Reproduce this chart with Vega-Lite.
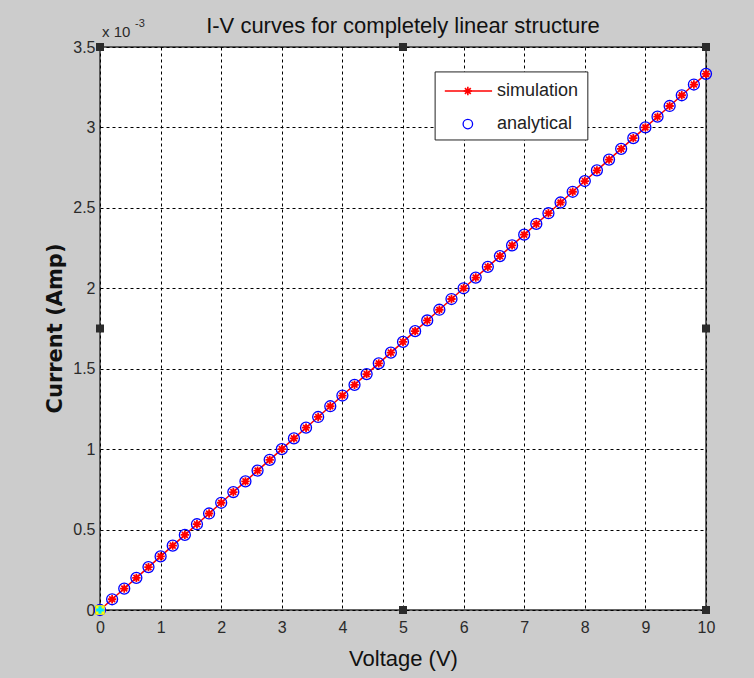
{
  "$schema": "https://vega.github.io/schema/vega-lite/v6.json",
  "width": 606,
  "height": 563,
  "autosize": "none",
  "padding": {"left": 100, "top": 47, "right": 48, "bottom": 68},
  "background": "#cccccc",
  "config": {
    "font": "Liberation Sans",
    "view": {"fill": "white", "stroke": "#333333", "strokeWidth": 1.5},
    "axis": {
      "grid": true,
      "gridColor": "#000000",
      "gridDash": [3, 3],
      "gridWidth": 1,
      "gridOpacity": 1,
      "domain": false,
      "ticks": false,
      "labelFont": "Liberation Sans",
      "labelFontSize": 16,
      "labelColor": "#2a2a2a",
      "titleFont": "Liberation Sans",
      "titleColor": "#111111"
    }
  },
  "title": {
    "text": "I-V curves for completely linear structure",
    "font": "Liberation Sans",
    "fontSize": 22,
    "fontWeight": "normal",
    "color": "#111111",
    "anchor": "middle",
    "baseline": "alphabetic",
    "offset": -37
  },
  "datasets": {
    "iv": [
      {"v": 0.0, "i_sim": 0.0, "i_ana": 0.0},
      {"v": 0.2, "i_sim": 0.0000667, "i_ana": 0.0000667},
      {"v": 0.4, "i_sim": 0.0001333, "i_ana": 0.0001333},
      {"v": 0.6, "i_sim": 0.0002, "i_ana": 0.0002},
      {"v": 0.8, "i_sim": 0.0002667, "i_ana": 0.0002667},
      {"v": 1.0, "i_sim": 0.0003333, "i_ana": 0.0003333},
      {"v": 1.2, "i_sim": 0.0004, "i_ana": 0.0004},
      {"v": 1.4, "i_sim": 0.0004667, "i_ana": 0.0004667},
      {"v": 1.6, "i_sim": 0.0005333, "i_ana": 0.0005333},
      {"v": 1.8, "i_sim": 0.0006, "i_ana": 0.0006},
      {"v": 2.0, "i_sim": 0.0006667, "i_ana": 0.0006667},
      {"v": 2.2, "i_sim": 0.0007333, "i_ana": 0.0007333},
      {"v": 2.4, "i_sim": 0.0008, "i_ana": 0.0008},
      {"v": 2.6, "i_sim": 0.0008667, "i_ana": 0.0008667},
      {"v": 2.8, "i_sim": 0.0009333, "i_ana": 0.0009333},
      {"v": 3.0, "i_sim": 0.001, "i_ana": 0.001},
      {"v": 3.2, "i_sim": 0.0010667, "i_ana": 0.0010667},
      {"v": 3.4, "i_sim": 0.0011333, "i_ana": 0.0011333},
      {"v": 3.6, "i_sim": 0.0012, "i_ana": 0.0012},
      {"v": 3.8, "i_sim": 0.0012667, "i_ana": 0.0012667},
      {"v": 4.0, "i_sim": 0.0013333, "i_ana": 0.0013333},
      {"v": 4.2, "i_sim": 0.0014, "i_ana": 0.0014},
      {"v": 4.4, "i_sim": 0.0014667, "i_ana": 0.0014667},
      {"v": 4.6, "i_sim": 0.0015333, "i_ana": 0.0015333},
      {"v": 4.8, "i_sim": 0.0016, "i_ana": 0.0016},
      {"v": 5.0, "i_sim": 0.0016667, "i_ana": 0.0016667},
      {"v": 5.2, "i_sim": 0.0017333, "i_ana": 0.0017333},
      {"v": 5.4, "i_sim": 0.0018, "i_ana": 0.0018},
      {"v": 5.6, "i_sim": 0.0018667, "i_ana": 0.0018667},
      {"v": 5.8, "i_sim": 0.0019333, "i_ana": 0.0019333},
      {"v": 6.0, "i_sim": 0.002, "i_ana": 0.002},
      {"v": 6.2, "i_sim": 0.0020667, "i_ana": 0.0020667},
      {"v": 6.4, "i_sim": 0.0021333, "i_ana": 0.0021333},
      {"v": 6.6, "i_sim": 0.0022, "i_ana": 0.0022},
      {"v": 6.8, "i_sim": 0.0022667, "i_ana": 0.0022667},
      {"v": 7.0, "i_sim": 0.0023333, "i_ana": 0.0023333},
      {"v": 7.2, "i_sim": 0.0024, "i_ana": 0.0024},
      {"v": 7.4, "i_sim": 0.0024667, "i_ana": 0.0024667},
      {"v": 7.6, "i_sim": 0.0025333, "i_ana": 0.0025333},
      {"v": 7.8, "i_sim": 0.0026, "i_ana": 0.0026},
      {"v": 8.0, "i_sim": 0.0026667, "i_ana": 0.0026667},
      {"v": 8.2, "i_sim": 0.0027333, "i_ana": 0.0027333},
      {"v": 8.4, "i_sim": 0.0028, "i_ana": 0.0028},
      {"v": 8.6, "i_sim": 0.0028667, "i_ana": 0.0028667},
      {"v": 8.8, "i_sim": 0.0029333, "i_ana": 0.0029333},
      {"v": 9.0, "i_sim": 0.003, "i_ana": 0.003},
      {"v": 9.2, "i_sim": 0.0030667, "i_ana": 0.0030667},
      {"v": 9.4, "i_sim": 0.0031333, "i_ana": 0.0031333},
      {"v": 9.6, "i_sim": 0.0032, "i_ana": 0.0032},
      {"v": 9.8, "i_sim": 0.0032667, "i_ana": 0.0032667},
      {"v": 10.0, "i_sim": 0.0033333, "i_ana": 0.0033333}
    ],
    "legendBox": [
      {"x1": 5.53, "x2": 8.05, "y1": 0.002922, "y2": 0.003345}
    ],
    "legendLine": [
      {"x": 5.69, "y": 0.0032265},
      {"x": 6.47, "y": 0.0032265}
    ],
    "legendItems": [
      {"label": "simulation", "mx": 6.07, "tx": 6.55, "y": 0.0032265, "series": "sim"},
      {"label": "analytical", "mx": 6.07, "tx": 6.55, "y": 0.0030210, "series": "ana"}
    ],
    "handles": [
      {"x": 5, "y": 0}, {"x": 10, "y": 0},
      {"x": 0, "y": 0.00175}, {"x": 10, "y": 0.00175},
      {"x": 0, "y": 0.0035}, {"x": 5, "y": 0.0035}, {"x": 10, "y": 0.0035}
    ],
    "cursor": [
      {"x": 0, "y": 0}
    ],
    "exponent": [
      {"x": 0, "y": 0.0035}
    ]
  },
  "layer": [
    {
      "data": {"name": "iv"},
      "mark": {"type": "line", "color": "#ff0000", "strokeWidth": 1.5},
      "encoding": {
        "x": {
          "field": "v",
          "type": "quantitative",
          "scale": {"domain": [0, 10], "nice": false, "zero": false},
          "axis": {
            "values": [0, 1, 2, 3, 4, 5, 6, 7, 8, 9, 10],
            "format": "d",
            "title": "Voltage (V)",
            "titleFontSize": 22,
            "titleFontWeight": "normal",
            "titleX": 303,
            "titleY": 48,
            "titleBaseline": "middle",
            "labelPadding": 9,
            "labelFlush": false
          }
        },
        "y": {
          "field": "i_sim",
          "type": "quantitative",
          "scale": {"domain": [0, 0.0035], "nice": false},
          "axis": {
            "values": [0, 0.0005, 0.001, 0.0015, 0.002, 0.0025, 0.003, 0.0035],
            "labelExpr": "format(datum.value * 1000, '.1~f')",
            "title": "Current (Amp)",
            "titleFont": "DejaVu Sans",
            "titleFontSize": 21,
            "titleFontWeight": "bold",
            "titleAngle": -90,
            "titleX": -45,
            "titleY": 281,
            "titleBaseline": "middle",
            "titleAlign": "center",
            "labelPadding": 5,
            "labelFlush": false
          }
        }
      }
    },
    {
      "data": {"name": "iv"},
      "mark": {"type": "point", "shape": "circle", "filled": false, "color": "#0000ff", "size": 120, "strokeWidth": 1.3, "opacity": 1},
      "encoding": {
        "x": {"field": "v", "type": "quantitative"},
        "y": {"field": "i_ana", "type": "quantitative"}
      }
    },
    {
      "data": {"name": "iv"},
      "mark": {"type": "point", "shape": "M-1,0L1,0M0,-1L0,1M-0.7,-0.7L0.7,0.7M-0.7,0.7L0.7,-0.7", "filled": false, "color": "#ff0000", "size": 70, "strokeWidth": 1.8, "opacity": 1},
      "encoding": {
        "x": {"field": "v", "type": "quantitative"},
        "y": {"field": "i_sim", "type": "quantitative"}
      }
    },
    {
      "data": {"name": "legendBox"},
      "mark": {"type": "rect", "fill": "white", "stroke": "#222222", "strokeWidth": 1},
      "encoding": {
        "x": {"field": "x1", "type": "quantitative"},
        "x2": {"field": "x2"},
        "y": {"field": "y1", "type": "quantitative"},
        "y2": {"field": "y2"}
      }
    },
    {
      "data": {"name": "legendLine"},
      "mark": {"type": "line", "color": "#ff0000", "strokeWidth": 1.5},
      "encoding": {
        "x": {"field": "x", "type": "quantitative"},
        "y": {"field": "y", "type": "quantitative"}
      }
    },
    {
      "data": {"name": "legendItems"},
      "transform": [{"filter": "datum.series == 'sim'"}],
      "mark": {"type": "point", "shape": "M-1,0L1,0M0,-1L0,1M-0.7,-0.7L0.7,0.7M-0.7,0.7L0.7,-0.7", "filled": false, "color": "#ff0000", "size": 70, "strokeWidth": 1.6, "opacity": 1},
      "encoding": {
        "x": {"field": "mx", "type": "quantitative"},
        "y": {"field": "y", "type": "quantitative"}
      }
    },
    {
      "data": {"name": "legendItems"},
      "transform": [{"filter": "datum.series == 'ana'"}],
      "mark": {"type": "point", "shape": "circle", "filled": false, "color": "#0000ff", "size": 90, "strokeWidth": 1.3, "opacity": 1},
      "encoding": {
        "x": {"field": "mx", "type": "quantitative"},
        "y": {"field": "y", "type": "quantitative"}
      }
    },
    {
      "data": {"name": "legendItems"},
      "mark": {"type": "text", "align": "left", "baseline": "middle", "font": "Liberation Sans", "fontSize": 18, "color": "#222222"},
      "encoding": {
        "x": {"field": "tx", "type": "quantitative"},
        "y": {"field": "y", "type": "quantitative"},
        "text": {"field": "label"}
      }
    },
    {
      "data": {"name": "handles"},
      "mark": {"type": "point", "shape": "square", "filled": true, "color": "#2b2b2b", "size": 64, "opacity": 1},
      "encoding": {
        "x": {"field": "x", "type": "quantitative"},
        "y": {"field": "y", "type": "quantitative"}
      }
    },
    {
      "data": {"name": "cursor"},
      "mark": {"type": "point", "shape": "square", "filled": true, "color": "#ffff00", "size": 90, "opacity": 1},
      "encoding": {
        "x": {"field": "x", "type": "quantitative"},
        "y": {"field": "y", "type": "quantitative"}
      }
    },
    {
      "data": {"name": "cursor"},
      "mark": {"type": "point", "shape": "cross", "filled": true, "color": "#00e5ff", "size": 60, "opacity": 1},
      "encoding": {
        "x": {"field": "x", "type": "quantitative"},
        "y": {"field": "y", "type": "quantitative"}
      }
    },
    {
      "data": {"name": "exponent"},
      "mark": {"type": "text", "align": "left", "baseline": "alphabetic", "font": "Liberation Sans", "fontSize": 15, "color": "#2a2a2a", "dx": 2, "dy": -10},
      "encoding": {
        "x": {"field": "x", "type": "quantitative"},
        "y": {"field": "y", "type": "quantitative"},
        "text": {"value": "x 10"}
      }
    },
    {
      "data": {"name": "exponent"},
      "mark": {"type": "text", "align": "left", "baseline": "alphabetic", "font": "Liberation Sans", "fontSize": 11, "color": "#2a2a2a", "dx": 35, "dy": -20},
      "encoding": {
        "x": {"field": "x", "type": "quantitative"},
        "y": {"field": "y", "type": "quantitative"},
        "text": {"value": "-3"}
      }
    }
  ]
}
